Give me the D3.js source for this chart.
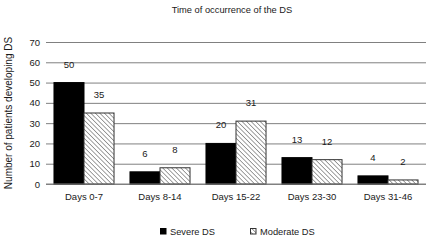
<!DOCTYPE html>
<html>
<head>
<meta charset="utf-8">
<script src="https://cdn.jsdelivr.net/npm/d3@7"></script>
<style>
  body { margin: 0; background: #fff; }
  text { font-family: "Liberation Sans", Arial, sans-serif; fill: #1a1a1a; }
</style>
</head>
<body>
<div id="chart"></div>
<script>
// chart data
var categories = ["Days 0-7", "Days 8-14", "Days 15-22", "Days 23-30", "Days 31-46"];
var severe = [50, 6, 20, 13, 4];
var moderate = [35, 8, 31, 12, 2];
var seriesNames = ["Severe DS", "Moderate DS"];
var yTicks = [0, 10, 20, 30, 40, 50, 60, 70];

var width = 431, height = 240;
var mLeft = 46, mRight = 5, mTop = 42, mBottom = 56;

var svg = d3.select("#chart").append("svg")
            .attr("width", width)
            .attr("height", height);

// hatch pattern for the moderate bars
var pattern = svg.append("defs").append("pattern")
                 .attr("id", "hatch")
                 .attr("patternUnits", "userSpaceOnUse")
                 .attr("width", 3.2)
                 .attr("height", 3.2)
                 .attr("patternTransform", "rotate(-45)");
pattern.append("rect").attr("width", 3.2).attr("height", 3.2).attr("fill", "#fff");
pattern.append("line")
       .attr("x1", 0).attr("y1", 0).attr("x2", 0).attr("y2", 3.2)
       .attr("stroke", "#555").attr("stroke-width", 1.1);

var xScale = d3.scaleBand()
               .domain(categories)
               .range([mLeft, width - mRight])
               .paddingInner(0.21)
               .paddingOuter(0.105);

var xInner = d3.scaleBand()
               .domain([0, 1])
               .range([0, xScale.bandwidth()]);

var yScale = d3.scaleLinear()
               .domain([0, 70])
               .range([height - mBottom, mTop]);

// gridlines
svg.append("g")
   .attr("class", "grid")
   .attr("transform", "translate(" + mLeft + ",0)")
   .call(d3.axisLeft(yScale).tickValues(yTicks).tickSize(-(width - mRight - mLeft)).tickFormat(""))
   .call(function(g) { g.select(".domain").remove(); })
   .selectAll("line")
   .attr("stroke", "#808080")
   .attr("stroke-width", 1);

// y tick labels
svg.append("g")
   .attr("class", "y_axis")
   .attr("transform", "translate(" + (mLeft - 6) + ",0)")
   .call(d3.axisLeft(yScale).tickValues(yTicks).tickSize(0).tickPadding(0))
   .call(function(g) { g.select(".domain").remove(); })
   .selectAll("text")
   .style("font-size", "9.5px")
   .style("font-family", "Liberation Sans, Arial, sans-serif")
   .attr("fill", "#1a1a1a");

// x category labels
svg.append("g")
   .attr("class", "x_axis")
   .attr("transform", "translate(0," + (height - mBottom) + ")")
   .call(d3.axisBottom(xScale).tickSize(0).tickPadding(9))
   .call(function(g) { g.select(".domain").remove(); })
   .selectAll("text")
   .style("font-size", "9.5px")
   .style("font-family", "Liberation Sans, Arial, sans-serif")
   .attr("fill", "#1a1a1a");

var rows = categories.map(function(c, i) {
  return [{cat: c, s: 0, value: severe[i]}, {cat: c, s: 1, value: moderate[i]}];
});

var groups = svg.append("g").selectAll(".bar-group")
                .data(rows)
                .enter().append("g")
                .attr("transform", function(d) { return "translate(" + xScale(d[0].cat) + ",0)"; });

groups.selectAll("rect")
      .data(function(d) { return d; })
      .enter().append("rect")
      .attr("x", function(d) { return xInner(d.s); })
      .attr("y", function(d) { return yScale(d.value); })
      .attr("width", xInner.bandwidth())
      .attr("height", function(d) { return yScale(0) - yScale(d.value); })
      .attr("fill", function(d) { return d.s === 0 ? "#000" : "url(#hatch)"; })
      .attr("stroke", function(d) { return d.s === 0 ? "#000" : "#333"; })
      .attr("stroke-width", 1);

groups.selectAll(".label")
      .data(function(d) { return d; })
      .enter().append("text")
      .attr("class", "label")
      .attr("x", function(d) { return xInner(d.s) + xInner.bandwidth() / 2; })
      .attr("y", function(d) { return yScale(d.value) - 15; })
      .attr("text-anchor", "middle")
      .style("font-size", "9.5px")
      .text(function(d) { return d.value; });

// x axis baseline
svg.append("line")
   .attr("x1", mLeft).attr("x2", width - mRight)
   .attr("y1", yScale(0)).attr("y2", yScale(0))
   .attr("stroke", "#808080");

// title
svg.append("text")
   .attr("x", 232)
   .attr("y", 13)
   .attr("text-anchor", "middle")
   .style("font-size", "9.3px")
   .text("Time of occurrence of the DS");

// y axis title
svg.append("text")
   .attr("transform", "translate(12," + ((mTop + height - mBottom) / 2) + ") rotate(-90)")
   .attr("text-anchor", "middle")
   .style("font-size", "10px")
   .text("Number of patients developing DS");

// legend
var legend = svg.append("g").attr("class", "legend");
var legendX = [160, 250];
seriesNames.forEach(function(name, i) {
  legend.append("rect")
        .attr("x", legendX[i] + 0.5)
        .attr("y", 228.5)
        .attr("width", 5.5)
        .attr("height", 5.5)
        .attr("fill", i === 0 ? "#000" : "url(#hatch)")
        .attr("stroke", i === 0 ? "#000" : "#333");
  legend.append("text")
        .attr("x", legendX[i] + 10)
        .attr("y", 235)
        .style("font-size", "9.3px")
        .text(name);
});
</script>
</body>
</html>
